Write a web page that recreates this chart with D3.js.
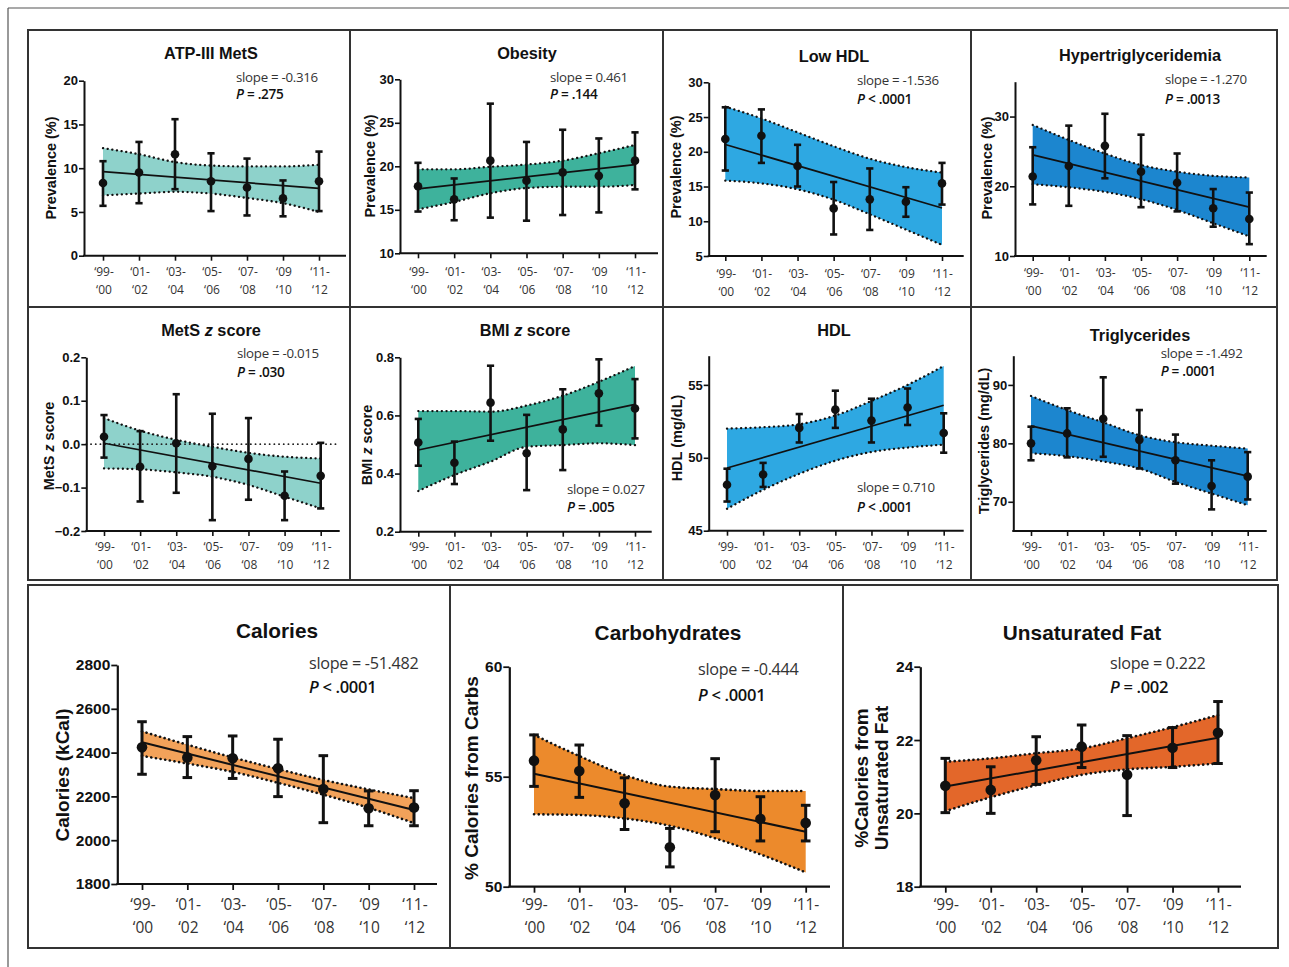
<!DOCTYPE html>
<html><head><meta charset="utf-8">
<script src="https://cdn.jsdelivr.net/npm/d3@7"></script>
<style>
html,body{margin:0;padding:0;background:#fff;}
svg{display:block;}
</style></head>
<body>
<svg id="chart" width="1289" height="967"></svg>
<script>
// ---------------- DATA ----------------
const categories = ["99-00","01-02","03-04","05-06","07-08","09-10","11-12"];
const xTickLine1 = ["\u201899-","\u201801-","\u201803-","\u201805-","\u201807-","\u201809","\u201811-"];
const xTickLine2 = ["\u201800","\u201802","\u201804","\u201806","\u201808","\u201810","\u201812"];

// ATP-III MetS
const atpMean = [8.3, 9.5, 11.6, 8.5, 7.8, 6.55, 8.5];
const atpErrHi = [10.8, 13.0, 15.6, 11.7, 11.1, 8.6, 11.9];
const atpErrLo = [5.7, 6.0, 7.6, 5.1, 4.6, 4.5, 5.1];
const atpFit = [9.6, 7.7];
const atpBandHi = [12.3, 11.6, 10.7, 10.3, 10.2, 10.2, 10.4];
const atpBandLo = [6.9, 7.1, 7.3, 7.1, 6.6, 6.0, 5.0];
const atpTicks = [0, 5, 10, 15, 20];

// Obesity
const obMean = [17.7, 16.2, 20.65, 18.35, 19.3, 18.9, 20.65];
const obErrHi = [20.4, 18.6, 27.2, 22.8, 24.2, 23.2, 23.9];
const obErrLo = [14.8, 13.8, 14.1, 13.75, 14.4, 14.7, 17.35];
const obFit = [17.4, 20.2];
const obBandHi = [19.65, 19.65, 19.95, 20.2, 20.65, 21.5, 22.45];
const obBandLo = [15.05, 15.9, 16.9, 17.5, 17.65, 17.65, 17.85];
const obTicks = [10, 15, 20, 25, 30];

// Low HDL
const lhMean = [21.85, 22.3, 17.95, 11.85, 13.15, 12.8, 15.45];
const lhErrHi = [26.4, 26.1, 21.0, 15.65, 17.6, 14.9, 18.4];
const lhErrLo = [17.3, 18.4, 15.0, 8.1, 8.75, 10.65, 12.4];
const lhFit = [21.05, 11.9];
const lhBandHi = [26.5, 24.8, 22.8, 20.8, 19.0, 17.8, 17.0];
const lhBandLo = [15.85, 15.45, 14.6, 13.1, 11.0, 8.8, 6.6];
const lhTicks = [5, 10, 15, 20, 25, 30];

// Hypertriglyceridemia
const htMean = [21.4, 22.9, 25.8, 22.1, 20.5, 16.85, 15.3];
const htErrHi = [25.6, 28.7, 30.4, 27.4, 24.7, 19.6, 19.1];
const htErrLo = [17.4, 17.2, 21.15, 17.0, 16.4, 14.2, 11.7];
const htFit = [24.5, 17.0];
const htBandHi = [28.8, 26.65, 24.7, 23.05, 22.1, 21.5, 21.25];
const htBandLo = [20.3, 19.85, 19.2, 18.15, 16.6, 14.7, 12.8];
const htTicks = [10, 20, 30];

// MetS z score
const mzMean = [0.017, -0.052, 0.002, -0.051, -0.034, -0.119, -0.073];
const mzErrHi = [0.067, 0.030, 0.115, 0.070, 0.060, -0.063, 0.003];
const mzErrLo = [-0.031, -0.132, -0.112, -0.175, -0.128, -0.175, -0.148];
const mzFit = [0.002, -0.090];
const mzBandHi = [0.060, 0.031, 0.010, -0.006, -0.020, -0.029, -0.033];
const mzBandLo = [-0.056, -0.058, -0.065, -0.075, -0.094, -0.121, -0.148];
const mzTicks = [-0.2, -0.1, 0.0, 0.1, 0.2];

// BMI z score
const bzMean = [0.507, 0.437, 0.644, 0.470, 0.552, 0.676, 0.624];
const bzErrHi = [0.588, 0.510, 0.771, 0.602, 0.690, 0.793, 0.725];
const bzErrLo = [0.427, 0.364, 0.513, 0.343, 0.412, 0.565, 0.521];
const bzFit = [0.481, 0.638];
const bzBandHi = [0.615, 0.615, 0.613, 0.634, 0.668, 0.716, 0.770];
const bzBandLo = [0.340, 0.395, 0.441, 0.492, 0.498, 0.504, 0.498];
const bzTicks = [0.2, 0.4, 0.6, 0.8];

// HDL
const hdMean = [48.15, 48.85, 52.05, 53.3, 52.55, 53.45, 51.7];
const hdErrHi = [49.25, 49.65, 53.0, 54.6, 54.05, 54.75, 53.05];
const hdErrLo = [47.0, 48.0, 51.05, 52.05, 51.05, 52.25, 50.35];
const hdFit = [49.3, 53.6];
const hdBandHi = [52.0, 52.1, 52.3, 52.9, 53.9, 55.0, 56.3];
const hdBandLo = [46.5, 47.8, 48.9, 49.8, 50.4, 50.7, 50.9];
const hdTicks = [45, 50, 55];

// Triglycerides
const tgMean = [80.0, 81.7, 84.2, 80.6, 77.1, 72.7, 74.3];
const tgErrHi = [82.85, 86.0, 91.3, 85.7, 81.5, 77.1, 78.5];
const tgErrLo = [77.1, 77.6, 77.7, 75.7, 73.1, 68.7, 70.4];
const tgFit = [83.0, 74.4];
const tgBandHi = [88.1, 85.7, 83.6, 81.4, 80.2, 79.6, 79.1];
const tgBandLo = [78.3, 77.8, 76.9, 75.7, 73.4, 71.4, 69.4];
const tgTicks = [70, 80, 90];

// Calories
const calMean = [2424, 2378, 2374, 2328, 2234, 2146, 2149];
const calErrHi = [2541, 2473, 2476, 2461, 2386, 2225, 2226];
const calErrLo = [2301, 2286, 2282, 2199, 2080, 2066, 2066];
const calFit = [2447, 2138];
const calBandHi = [2497, 2436, 2378, 2325, 2275, 2232, 2192];
const calBandLo = [2385, 2350, 2312, 2262, 2208, 2148, 2078];
const calTicks = [1800, 2000, 2200, 2400, 2600, 2800];

// Carbohydrates
const carbMean = [55.73, 55.26, 53.79, 51.79, 54.17, 53.08, 52.9];
const carbErrHi = [56.9, 56.44, 54.95, 52.65, 55.82, 54.09, 53.7];
const carbErrLo = [54.56, 54.06, 52.6, 50.9, 52.5, 52.08, 52.08];
const carbFit = [55.13, 52.5];
const carbBandHi = [56.9, 55.94, 55.08, 54.55, 54.44, 54.35, 54.35];
const carbBandLo = [53.29, 53.26, 53.1, 52.77, 52.2, 51.47, 50.65];
const carbTicks = [50, 55, 60];

// Unsaturated fat
const ufMean = [20.75, 20.64, 21.45, 21.82, 21.05, 21.79, 22.2];
const ufErrHi = [21.5, 21.27, 22.09, 22.41, 22.12, 22.34, 23.05];
const ufErrLo = [20.02, 20.0, 20.79, 21.25, 19.94, 21.25, 21.36];
const ufFit = [20.73, 22.06];
const ufBandHi = [21.41, 21.5, 21.64, 21.77, 22.05, 22.35, 22.68];
const ufBandLo = [20.06, 20.44, 20.77, 21.05, 21.2, 21.27, 21.36];
const ufTicks = [18, 20, 22, 24];

// ---------------- DRAW ----------------
const svg = d3.select("#chart");
const BOLD = "'Liberation Sans', Arial, Helvetica, sans-serif";
const HUM = "'Open Sans', 'Noto Sans', sans-serif";

// outer frame
svg.append("line").attr("x1",8).attr("y1",8).attr("x2",1289).attr("y2",8).attr("stroke","#555").attr("stroke-width",1.2);
svg.append("line").attr("x1",8).attr("y1",8).attr("x2",8).attr("y2",967).attr("stroke","#555").attr("stroke-width",1.2);

// panel boxes
const box = svg.append("g").attr("fill","none").attr("stroke","#333").attr("stroke-width",2);
box.append("rect").attr("x",28).attr("y",30).attr("width",1249).attr("height",550);
[350,663,971].forEach(xx=>box.append("line").attr("x1",xx).attr("x2",xx).attr("y1",30).attr("y2",580));
box.append("line").attr("x1",28).attr("x2",1277).attr("y1",307).attr("y2",307);
box.append("rect").attr("x",28).attr("y",585).attr("width",1250).attr("height",363);
[450,843].forEach(xx=>box.append("line").attr("x1",xx).attr("x2",xx).attr("y1",585).attr("y2",948));

const small = {title:16.3, tick:13, xlab:12, stat:13.3, ylab:14.5, cap:3.6, r:4.3, ebw:2.6, axw:2, fitw:1.7, dot:2.3};
const big   = {title:20.8, tick:15.5, xlab:15.5, stat:16.2, ylab:19, cap:4.8, r:5.3, ebw:3, axw:2.2, fitw:2, dot:2.6};

const C_TEAL_L = "#8ed2cb", C_TEAL_D = "#3eb29c", C_BLUE_L = "#2ea8e2", C_BLUE_D = "#1c86cf",
      C_OR_L = "#f2a25a", C_OR = "#ec8a2c", C_OR_R = "#e3672a";

const panels = [
 {title:["ATP-III MetS"], ylab:[["Prevalence (%)"]], mean:atpMean, hi:atpErrHi, lo:atpErrLo, fit:atpFit, bHi:atpBandHi, bLo:atpBandLo, ticks:atpTicks, domain:[0,20], fmt:d3.format("d"), color:C_TEAL_L,
  slope:"slope = -0.316", p:[" = .275"], L:{ax:84, yT:80.7, yB:255.7, cx0:103, cx1:319, xEnd:346, tx:211, ty:59, sx:236, sy1:82, sy2:99, lx:[51], ly:168, xl1:276, xl2:294}, s:small},
 {title:["Obesity"], ylab:[["Prevalence (%)"]], mean:obMean, hi:obErrHi, lo:obErrLo, fit:obFit, bHi:obBandHi, bLo:obBandLo, ticks:obTicks, domain:[10,30], fmt:d3.format("d"), color:C_TEAL_D,
  slope:"slope = 0.461", p:[" = .144"], L:{ax:400, yT:79.3, yB:253.3, cx0:418, cx1:635, xEnd:658, tx:527, ty:59, sx:550, sy1:82, sy2:99, lx:[370], ly:166, xl1:276, xl2:294}, s:small},
 {title:["Low HDL"], ylab:[["Prevalence (%)"]], mean:lhMean, hi:lhErrHi, lo:lhErrLo, fit:lhFit, bHi:lhBandHi, bLo:lhBandLo, ticks:lhTicks, domain:[5,30], fmt:d3.format("d"), color:C_BLUE_L,
  slope:"slope = -1.536", p:[" < .0001"], L:{ax:708.7, yT:82.3, yB:256, cx0:725.3, cx1:942, xEnd:963.7, tx:834, ty:61.5, sx:857, sy1:85, sy2:104, lx:[676], ly:167, xl1:278, xl2:296}, s:small},
 {title:["Hypertriglyceridemia"], ylab:[["Prevalence  (%)"]], mean:htMean, hi:htErrHi, lo:htErrLo, fit:htFit, bHi:htBandHi, bLo:htBandLo, ticks:htTicks, domain:[10,35], fmt:d3.format("d"), color:C_BLUE_D,
  slope:"slope = -1.270", p:[" = .0013"], L:{ax:1015, yT:81.7, yB:256, cx0:1032.7, cx1:1249.3, xEnd:1266.7, tx:1140, ty:61, sx:1165, sy1:84, sy2:104, lx:[987], ly:168, xl1:277, xl2:295}, s:small},
 {title:["MetS ","z"," score"], ylab:[["MetS ","z"," score"]], mean:mzMean, hi:mzErrHi, lo:mzErrLo, fit:mzFit, bHi:mzBandHi, bLo:mzBandLo, ticks:mzTicks, domain:[-0.2,0.2], fmt:d3.format(".1f"), color:C_TEAL_L, zero:true,
  slope:"slope = -0.015", p:[" = .030"], L:{ax:86.3, yT:357.3, yB:531, cx0:104, cx1:320.7, xEnd:339.7, tx:211, ty:336, sx:237, sy1:358, sy2:377, lx:[49], ly:446, xl1:551, xl2:569}, s:small},
 {title:["BMI ","z"," score"], ylab:[["BMI ","z"," score"]], mean:bzMean, hi:bzErrHi, lo:bzErrLo, fit:bzFit, bHi:bzBandHi, bLo:bzBandLo, ticks:bzTicks, domain:[0.2,0.8], fmt:d3.format(".1f"), color:C_TEAL_D,
  slope:"slope = 0.027", p:[" = .005"], L:{ax:400, yT:357.3, yB:531.7, cx0:418.3, cx1:635, xEnd:651.7, tx:525, ty:336, sx:567, sy1:494, sy2:512, lx:[367], ly:445, xl1:551, xl2:569}, s:small},
 {title:["HDL"], ylab:[["HDL (mg/dL)"]], mean:hdMean, hi:hdErrHi, lo:hdErrLo, fit:hdFit, bHi:hdBandHi, bLo:hdBandLo, ticks:hdTicks, domain:[45,57], fmt:d3.format("d"), color:C_BLUE_L,
  slope:"slope = 0.710", p:[" < .0001"], L:{ax:708.7, yT:355.7, yB:530.7, cx0:727, cx1:943.7, xEnd:963.7, tx:834, ty:336, sx:857, sy1:492, sy2:512, lx:[677], ly:438, xl1:551, xl2:569}, s:small},
 {title:["Triglycerides"], ylab:[["Triglycerides (mg/dL)"]], mean:tgMean, hi:tgErrHi, lo:tgErrLo, fit:tgFit, bHi:tgBandHi, bLo:tgBandLo, ticks:tgTicks, domain:[65,95], fmt:d3.format("d"), color:C_BLUE_D,
  slope:"slope = -1.492", p:[" = .0001"], L:{ax:1013.3, yT:355.7, yB:531, cx0:1031, cx1:1247.7, xEnd:1266.7, tx:1140, ty:341, sx:1160.7, sy1:358, sy2:376, lx:[984], ly:441, xl1:551, xl2:569}, s:small},
 {title:["Calories"], ylab:[["Calories  (kCal)"]], mean:calMean, hi:calErrHi, lo:calErrLo, fit:calFit, bHi:calBandHi, bLo:calBandLo, ticks:calTicks, domain:[1800,2800], fmt:d3.format("d"), color:C_OR_L,
  slope:"slope = -51.482", p:[" < .0001"], L:{ax:117.3, yT:665, yB:884, cx0:142, cx1:414, xEnd:437, tx:277, ty:638, sx:309, sy1:669, sy2:693, lx:[62], ly:775, xl1:910, xl2:933}, s:big},
 {title:["Carbohydrates"], ylab:[["% Calories from Carbs"]], mean:carbMean, hi:carbErrHi, lo:carbErrLo, fit:carbFit, bHi:carbBandHi, bLo:carbBandLo, ticks:carbTicks, domain:[50,60], fmt:d3.format("d"), color:C_OR,
  slope:"slope = -0.444", p:[" < .0001"], L:{ax:509.3, yT:666.7, yB:886.7, cx0:534, cx1:805.7, xEnd:830, tx:668, ty:640, sx:698, sy1:675, sy2:701, lx:[471], ly:778, xl1:910, xl2:933}, s:big},
 {title:["Unsaturated Fat"], ylab:[["%Calories from"],["Unsaturated  Fat"]], mean:ufMean, hi:ufErrHi, lo:ufErrLo, fit:ufFit, bHi:ufBandHi, bLo:ufBandLo, ticks:ufTicks, domain:[18,24], fmt:d3.format("d"), color:C_OR_R,
  slope:"slope = 0.222", p:[" = .002"], L:{ax:920.3, yT:666.7, yB:886.7, cx0:945.3, cx1:1218, xEnd:1241, tx:1082, ty:640, sx:1110, sy1:669, sy2:693, lx:[861,881], ly:778, xl1:910, xl2:933}, s:big}
];

function addParts(textSel, parts){
  parts.forEach((t,i)=>{
    const ts = textSel.append("tspan").text(t);
    if (parts.length === 3 && i === 1) ts.attr("font-style","italic");
  });
}

panels.forEach(p=>{
  const L = p.L, s = p.s;
  const g = svg.append("g");
  const x = d3.scalePoint().domain(categories).range([L.cx0, L.cx1]);
  const y = d3.scaleLinear().domain(p.domain).range([L.yB, L.yT]);

  const rows = categories.map((c,i)=>({c, m:p.mean[i], hi:p.hi[i], lo:p.lo[i], bh:p.bHi[i], bl:p.bLo[i]}));

  // band
  g.append("path").datum(rows)
    .attr("d", d3.area().x(d=>x(d.c)).y0(d=>y(d.bl)).y1(d=>y(d.bh)).curve(d3.curveMonotoneX))
    .attr("fill", p.color);
  // dotted bounds
  ["bh","bl"].forEach(k=>{
    g.append("path").datum(rows)
      .attr("d", d3.line().x(d=>x(d.c)).y(d=>y(d[k])).curve(d3.curveMonotoneX))
      .attr("fill","none").attr("stroke","#111").attr("stroke-width",s.dot)
      .attr("stroke-linecap","round").attr("stroke-dasharray","0.1,4.6");
  });
  // zero reference line
  if (p.zero) {
    g.append("line").attr("x1",L.ax).attr("x2",L.xEnd).attr("y1",y(0)).attr("y2",y(0))
      .attr("stroke","#222").attr("stroke-width",1.8).attr("stroke-linecap","round").attr("stroke-dasharray","0.1,4.6");
  }
  // fit line
  const fitPts = [{c:categories[0], v:p.fit[0]},{c:categories[categories.length-1], v:p.fit[1]}];
  g.append("path").datum(fitPts).attr("d", d3.line().x(d=>x(d.c)).y(d=>y(d.v)))
    .attr("stroke","#111").attr("stroke-width",s.fitw).attr("fill","none");

  // error bars
  const eb = g.append("g").attr("stroke","#111").attr("stroke-width",s.ebw);
  eb.selectAll(".v").data(rows).join("line")
    .attr("x1",d=>x(d.c)).attr("x2",d=>x(d.c)).attr("y1",d=>y(d.hi)).attr("y2",d=>y(d.lo));
  eb.selectAll(".ct").data(rows).join("line")
    .attr("x1",d=>x(d.c)-s.cap).attr("x2",d=>x(d.c)+s.cap).attr("y1",d=>y(d.hi)).attr("y2",d=>y(d.hi));
  eb.selectAll(".cb").data(rows).join("line")
    .attr("x1",d=>x(d.c)-s.cap).attr("x2",d=>x(d.c)+s.cap).attr("y1",d=>y(d.lo)).attr("y2",d=>y(d.lo));
  g.selectAll("circle").data(rows).join("circle")
    .attr("cx",d=>x(d.c)).attr("cy",d=>y(d.m)).attr("r",s.r).attr("fill","#111");

  // y axis
  const ya = g.append("g").attr("transform",`translate(${L.ax},0)`)
    .call(d3.axisLeft(y).tickValues(p.ticks).tickFormat(p.fmt).tickSize(s===big?6:5).tickSizeOuter(0).tickPadding(1));
  ya.select(".domain").attr("stroke","#111").attr("stroke-width",s.axw);
  ya.selectAll(".tick line").attr("stroke","#111").attr("stroke-width",s.axw*0.8);
  ya.selectAll(".tick text").attr("font-family",BOLD).attr("font-weight","bold").attr("font-size",s.tick).attr("fill","#111");

  // x axis
  const xa = g.append("g").attr("transform",`translate(0,${L.yB})`)
    .call(d3.axisBottom(x).tickSize(s===big?6:5).tickFormat(""));
  xa.select(".domain").remove();
  xa.selectAll(".tick line").attr("stroke","#111").attr("stroke-width",s.axw*0.8);
  g.append("line").attr("x1",L.ax-1).attr("x2",L.xEnd).attr("y1",L.yB).attr("y2",L.yB)
    .attr("stroke","#111").attr("stroke-width",s.axw);
  categories.forEach((c,i)=>{
    const t = g.append("text").attr("text-anchor","middle").attr("font-family",HUM).attr("font-size",s.xlab).attr("fill","#333");
    t.append("tspan").attr("x",x(c)+1).attr("y",L.xl1).text(xTickLine1[i]);
    t.append("tspan").attr("x",x(c)+1).attr("y",L.xl2).text(xTickLine2[i]);
  });

  // title
  const tt = g.append("text").attr("x",L.tx).attr("y",L.ty).attr("text-anchor","middle")
    .attr("font-family",BOLD).attr("font-weight","bold").attr("font-size",s.title).attr("fill","#111");
  addParts(tt, p.title);

  // y label
  p.ylab.forEach((parts,i)=>{
    const yl = g.append("text").attr("transform",`translate(${L.lx[i]},${L.ly}) rotate(-90)`)
      .attr("text-anchor","middle").attr("font-family",BOLD).attr("font-weight","bold")
      .attr("font-size",s.ylab).attr("fill","#111").attr("dy","0.35em");
    addParts(yl, parts);
  });

  // stats
  g.append("text").attr("x",L.sx).attr("y",L.sy1).attr("font-family",HUM).attr("font-size",s.stat)
    .attr("fill","#333").attr("letter-spacing","-0.3").text(p.slope);
  const pt = g.append("text").attr("x",L.sx).attr("y",L.sy2).attr("font-family",HUM).attr("font-size",s.stat+0.3)
    .attr("font-weight","600").attr("fill","#111").attr("letter-spacing","-0.3");
  pt.append("tspan").attr("font-style","italic").text("P");
  pt.append("tspan").text(p.p[0]);
});
</script>
</body></html>
